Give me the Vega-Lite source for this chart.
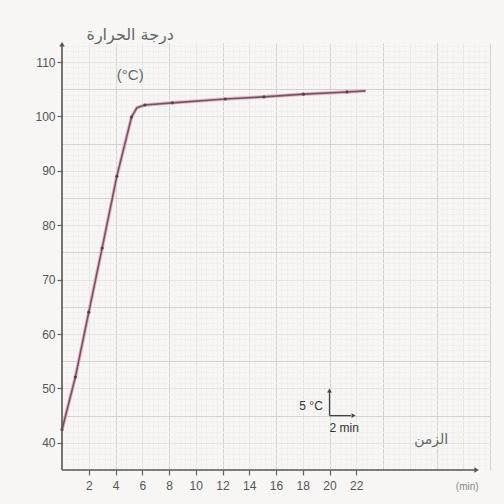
{
  "$schema": "https://vega.github.io/schema/vega-lite/v6.json",
  "width": 428,
  "height": 427,
  "autosize": "none",
  "padding": {"left": 62, "top": 43, "right": 14, "bottom": 34},
  "background": "#f7f6f4",
  "config": {"view": {"stroke": null}},
  "data": {"values": [{}]},
  "datasets": {
    "temp": [
      {"t": 0, "T": 42.4},
      {"t": 1, "T": 52.1},
      {"t": 2, "T": 64},
      {"t": 3, "T": 75.8},
      {"t": 4.1, "T": 89},
      {"t": 5.2, "T": 99.9},
      {"t": 5.6, "T": 101.6},
      {"t": 6.2, "T": 102.1},
      {"t": 8.25, "T": 102.5},
      {"t": 12.2, "T": 103.2},
      {"t": 15.1, "T": 103.6},
      {"t": 18.05, "T": 104.1},
      {"t": 21.3, "T": 104.5},
      {"t": 22.7, "T": 104.7}
    ]
  },
  "resolve": {"axis": {"x": "independent", "y": "independent"}},
  "layer": [
    {
      "data": {"name": "temp"},
      "mark": {"type": "line", "color": "#eeb0c0", "strokeWidth": 3.5},
      "encoding": {
        "x": {
          "field": "t", "type": "quantitative",
          "scale": {"domain": [0, 32], "nice": false, "zero": false},
          "axis": {
            "orient": "top", "labels": false, "ticks": false, "domain": false, "title": null,
            "grid": true, "gridWidth": 1, "gridOpacity": 1,
            "gridColor": {"condition": [{"test": "datum.value % 4 === 0", "value": "#d2d2d2"}, {"test": "datum.value % 2 === 0", "value": "#e5e5e5"}], "value": "#f0f0ef"},
            "values": [0.4,0.8,1.2,1.6,2,2.4,2.8,3.2,3.6,4,4.4,4.8,5.2,5.6,6,6.4,6.8,7.2,7.6,8,8.4,8.8,9.2,9.6,10,10.4,10.8,11.2,11.6,12,12.4,12.8,13.2,13.6,14,14.4,14.8,15.2,15.6,16,16.4,16.8,17.2,17.6,18,18.4,18.8,19.2,19.6,20,20.4,20.8,21.2,21.6,22,22.4,22.8,23.2,23.6,24,24.4,24.8,25.2,25.6,26,26.4,26.8,27.2,27.6,28,28.4,28.8,29.2,29.6,30,30.4,30.8,31.2,31.6,32]
          }
        },
        "y": {
          "field": "T", "type": "quantitative",
          "scale": {"domain": [35, 113.5], "nice": false, "zero": false},
          "axis": {
            "orient": "right", "labels": false, "ticks": false, "domain": false, "title": null,
            "grid": true, "gridWidth": 1, "gridOpacity": 1,
            "gridColor": {"condition": [{"test": "(datum.value - 5) % 10 === 0", "value": "#d2d2d2"}, {"test": "datum.value % 5 === 0", "value": "#e5e5e5"}], "value": "#f0f0ef"},
            "values": [36,37,38,39,40,41,42,43,44,45,46,47,48,49,50,51,52,53,54,55,56,57,58,59,60,61,62,63,64,65,66,67,68,69,70,71,72,73,74,75,76,77,78,79,80,81,82,83,84,85,86,87,88,89,90,91,92,93,94,95,96,97,98,99,100,101,102,103,104,105,106,107,108,109,110,111,112,113]
          }
        }
      }
    },
    {
      "data": {"name": "temp"},
      "mark": {"type": "line", "color": "#6b5a68", "strokeWidth": 1.6},
      "encoding": {
        "x": {
          "field": "t", "type": "quantitative",
          "axis": {
            "orient": "bottom", "grid": false, "domain": false, "title": null,
            "values": [2,4,6,8,10,12,14,16,18,20,22],
            "tickSize": 5, "tickColor": "#666", "tickWidth": 1.2,
            "labelFont": "Liberation Sans", "labelFontSize": 12, "labelColor": "#555", "labelPadding": 5
          }
        },
        "y": {
          "field": "T", "type": "quantitative",
          "axis": {
            "orient": "left", "grid": false, "domain": false, "title": null,
            "values": [40,50,60,70,80,90,100,110],
            "tickSize": 5, "tickColor": "#666", "tickWidth": 1.2,
            "labelFont": "Liberation Sans", "labelFontSize": 12, "labelColor": "#555", "labelPadding": 2
          }
        }
      }
    },
    {
      "data": {"name": "temp"},
      "transform": [{"filter": "datum.t < 22.5 && datum.t != 5.6"}],
      "mark": {"type": "point", "filled": true, "color": "#4a3d48", "size": 10, "opacity": 0.9},
      "encoding": {
        "x": {"field": "t", "type": "quantitative", "axis": null},
        "y": {"field": "T", "type": "quantitative", "axis": null}
      }
    },
    {
      "mark": {"type": "rule", "color": "#555", "strokeWidth": 1.6},
      "encoding": {
        "x": {"datum": 0, "type": "quantitative", "axis": null},
        "x2": {"datum": 31},
        "y": {"datum": 35, "type": "quantitative", "axis": null}
      }
    },
    {
      "mark": {"type": "rule", "color": "#555", "strokeWidth": 1.6},
      "encoding": {
        "x": {"datum": 0, "type": "quantitative", "axis": null},
        "y": {"datum": 35, "type": "quantitative", "axis": null},
        "y2": {"datum": 113.3}
      }
    },
    {
      "mark": {"type": "rule", "color": "#444", "strokeWidth": 1.3},
      "encoding": {
        "x": {"datum": 20, "type": "quantitative", "axis": null},
        "y": {"datum": 45, "type": "quantitative", "axis": null},
        "y2": {"datum": 49.5}
      }
    },
    {
      "mark": {"type": "rule", "color": "#444", "strokeWidth": 1.3},
      "encoding": {
        "x": {"datum": 20, "type": "quantitative", "axis": null},
        "x2": {"datum": 21.6},
        "y": {"datum": 45, "type": "quantitative", "axis": null}
      }
    },
    {
      "mark": {"type": "point", "shape": "triangle-up", "filled": true, "color": "#555", "size": 28, "opacity": 1},
      "encoding": {
        "x": {"datum": 0, "type": "quantitative", "axis": null},
        "y": {"datum": 113.3, "type": "quantitative", "axis": null}
      }
    },
    {
      "mark": {"type": "point", "shape": "triangle-right", "filled": true, "color": "#555", "size": 28, "opacity": 1},
      "encoding": {
        "x": {"datum": 31, "type": "quantitative", "axis": null},
        "y": {"datum": 35, "type": "quantitative", "axis": null}
      }
    },
    {
      "mark": {"type": "point", "shape": "triangle-up", "filled": true, "color": "#444", "size": 22, "opacity": 1},
      "encoding": {
        "x": {"datum": 20, "type": "quantitative", "axis": null},
        "y": {"datum": 49.6, "type": "quantitative", "axis": null}
      }
    },
    {
      "mark": {"type": "point", "shape": "triangle-right", "filled": true, "color": "#444", "size": 22, "opacity": 1},
      "encoding": {
        "x": {"datum": 21.8, "type": "quantitative", "axis": null},
        "y": {"datum": 45, "type": "quantitative", "axis": null}
      }
    },
    {
      "mark": {"type": "text", "font": "DejaVu Sans", "fontSize": 16, "color": "#666", "align": "center", "baseline": "middle"},
      "encoding": {
        "x": {"datum": 5.1, "type": "quantitative", "axis": null},
        "y": {"datum": 115, "type": "quantitative", "axis": null},
        "text": {"value": "درجة الحرارة"}
      }
    },
    {
      "mark": {"type": "text", "font": "Liberation Sans", "fontSize": 15, "color": "#666", "align": "center", "baseline": "middle"},
      "encoding": {
        "x": {"datum": 5.1, "type": "quantitative", "axis": null},
        "y": {"datum": 107.6, "type": "quantitative", "axis": null},
        "text": {"value": "(°C)"}
      }
    },
    {
      "mark": {"type": "text", "font": "DejaVu Sans", "fontSize": 14, "color": "#666", "align": "center", "baseline": "middle"},
      "encoding": {
        "x": {"datum": 27.6, "type": "quantitative", "axis": null},
        "y": {"datum": 40.5, "type": "quantitative", "axis": null},
        "text": {"value": "الزمن"}
      }
    },
    {
      "mark": {"type": "text", "font": "Liberation Sans", "fontSize": 10, "color": "#888", "align": "center", "baseline": "middle"},
      "encoding": {
        "x": {"datum": 30.3, "type": "quantitative", "axis": null},
        "y": {"datum": 31.9, "type": "quantitative", "axis": null},
        "text": {"value": "(min)"}
      }
    },
    {
      "mark": {"type": "text", "font": "Liberation Sans", "fontSize": 12, "color": "#333", "align": "right", "baseline": "middle"},
      "encoding": {
        "x": {"datum": 19.5, "type": "quantitative", "axis": null},
        "y": {"datum": 46.8, "type": "quantitative", "axis": null},
        "text": {"value": "5 °C"}
      }
    },
    {
      "mark": {"type": "text", "font": "Liberation Sans", "fontSize": 12, "color": "#333", "align": "center", "baseline": "middle"},
      "encoding": {
        "x": {"datum": 21.1, "type": "quantitative", "axis": null},
        "y": {"datum": 42.7, "type": "quantitative", "axis": null},
        "text": {"value": "2 min"}
      }
    }
  ]
}
